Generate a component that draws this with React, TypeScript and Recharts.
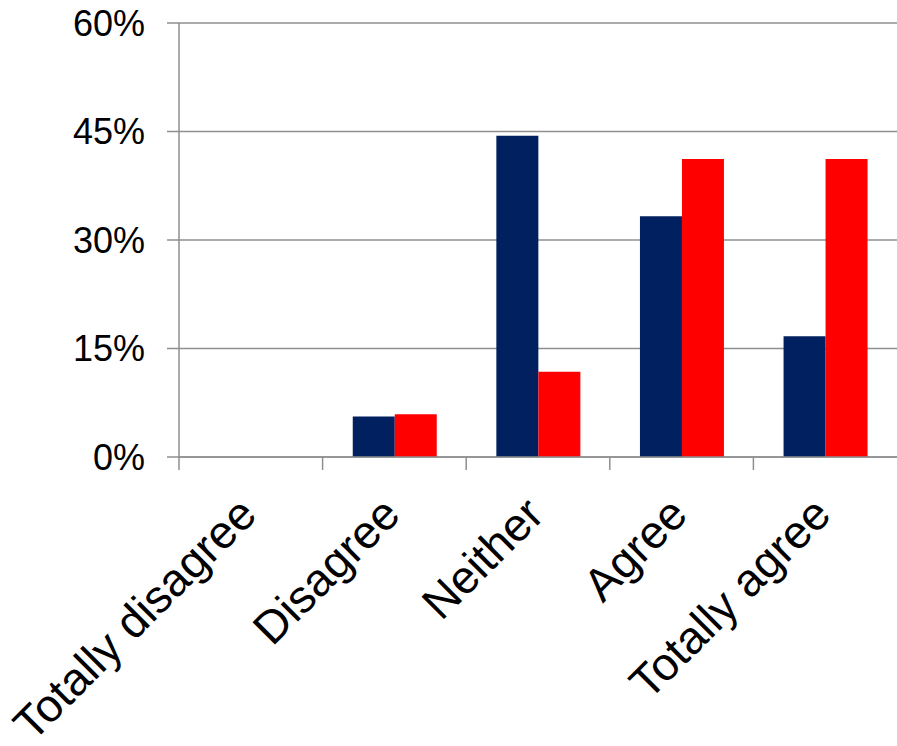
import { Bar, BarChart, CartesianGrid, XAxis, YAxis } from "recharts";

const categories = ["Totally disagree", "Disagree", "Neither", "Agree", "Totally agree"];
const seriesA = [0, 5.6, 44.4, 33.3, 16.7];
const seriesB = [0, 5.9, 11.8, 41.2, 41.2];
const yTicks = [0, 15, 30, 45, 60];

const data = categories.map((name, i) => ({ name, a: seriesA[i], b: seriesB[i] }));

const GRID = "#8f8f8f";
const FONT = "'Liberation Sans', Arial, sans-serif";

const CategoryTick = ({ x, y, payload }: any) => {
  const half = payload && payload.offset ? payload.offset : 71.8;
  const bx = x - half;
  const tx = x + 8;
  const ty = y + 60;
  return (
    <g>
      <line x1={bx} y1={y} x2={bx} y2={y + 13} stroke={GRID} strokeWidth={1.5} />
      <text
        x={tx}
        y={ty}
        transform={`rotate(-45, ${tx}, ${ty})`}
        textAnchor="end"
        fontSize={46}
        fontFamily={FONT}
        fill="#000"
      >
        {payload.value}
      </text>
    </g>
  );
};

export default function App() {
  return (
    <div style={{ position: "absolute", left: 0, top: 0, background: "#fff" }}>
      <BarChart
        width={897}
        height={746}
        data={data}
        margin={{ top: 23, right: 0, bottom: 0, left: 0 }}
        barCategoryGap="21%"
        barGap={0}
      >
        <CartesianGrid vertical={false} stroke={GRID} strokeWidth={1.5} />
        <XAxis
          dataKey="name"
          height={289}
          interval={0}
          tickLine={false}
          tickSize={0}
          tickMargin={0}
          axisLine={{ stroke: GRID, strokeWidth: 1.5 }}
          tick={<CategoryTick />}
        />
        <YAxis
          domain={[0, 60]}
          ticks={yTicks}
          width={179}
          tickSize={12}
          tickMargin={22}
          tickFormatter={(v: number) => `${v}%`}
          tick={{ fontSize: 36, fontFamily: FONT, fill: "#000" }}
          tickLine={{ stroke: GRID, strokeWidth: 1.5 }}
          axisLine={{ stroke: GRID, strokeWidth: 1.5 }}
        />
        <Bar dataKey="a" fill="#00205f" isAnimationActive={false} />
        <Bar dataKey="b" fill="#ff0000" isAnimationActive={false} />
      </BarChart>
    </div>
  );
}
